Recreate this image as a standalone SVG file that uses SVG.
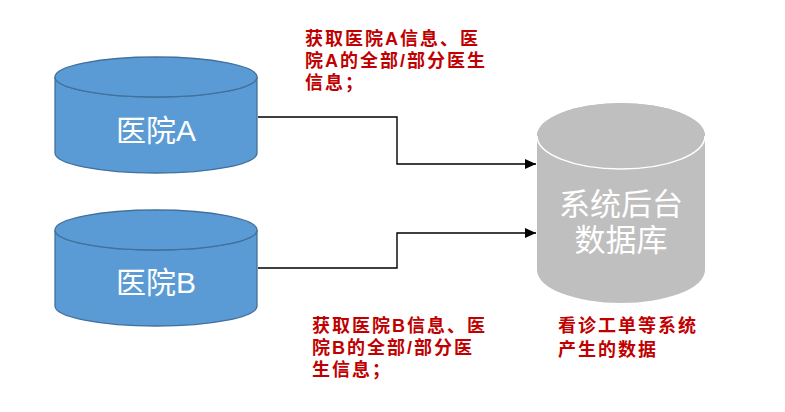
<svg xmlns="http://www.w3.org/2000/svg" width="785" height="412" viewBox="0 0 785 412">
  <style>
    .blue { fill: #5b9bd5; stroke: #41719c; stroke-width: 1.3; }
    .gray { fill: #bfbfbf; }
    .node-text { fill: #ffffff; font-family: "Liberation Sans", "Noto Sans CJK SC", sans-serif; text-anchor: middle; }
    .label { fill: #c00000; font-family: "Liberation Sans", "Noto Sans CJK SC", sans-serif; font-weight: bold; font-size: 18px; letter-spacing: 2px; }
    .conn { fill: none; stroke: #000000; stroke-width: 1.4; }
  </style>
  <defs>
    <marker id="arrow" markerUnits="userSpaceOnUse" markerWidth="11" markerHeight="10" refX="11" refY="5" orient="auto">
      <path d="M0,0 L11,5 L0,10 Z" fill="#000000"/>
    </marker>
  </defs>
  <rect width="785" height="412" fill="#ffffff"/>

  <g id="hospital-a">
    <path class="blue" d="M55,77 V153 A101,20 0 0 0 257,153 V77 A101,20 0 0 1 55,77 Z"/>
    <ellipse class="blue" cx="156" cy="77" rx="101" ry="20"/>
    <text class="node-text" x="156" y="141" font-size="30">医院A</text>
  </g>

  <g id="hospital-b">
    <path class="blue" d="M55,230 V306 A101,20 0 0 0 257,306 V230 A101,20 0 0 1 55,230 Z"/>
    <ellipse class="blue" cx="156" cy="230" rx="101" ry="20"/>
    <text class="node-text" x="156" y="293" font-size="30">医院B</text>
  </g>

  <g id="backend-db">
    <path class="gray" d="M537,136 V270 A84,33 0 0 0 705,270 V136 A84,33 0 0 0 537,136 Z"/>
    <ellipse class="gray" cx="621" cy="136" rx="84" ry="33"/>
    <path d="M537,136 A84,33 0 0 0 705,136" fill="none" stroke="#ffffff" stroke-width="1.5"/>
    <text class="node-text" x="621" y="215" font-size="31">系统后台</text>
    <text class="node-text" x="621" y="251" font-size="31">数据库</text>
  </g>

  <g id="connectors">
    <polyline class="conn" points="258,117 397,117 397,164 536,164" marker-end="url(#arrow)"/>
    <polyline class="conn" points="258,268 397,268 397,233 536,233" marker-end="url(#arrow)"/>
  </g>

  <g id="label-a">
    <text class="label" x="305" y="45">获取医院A信息、医</text>
    <text class="label" x="305" y="67">院A的全部/部分医生</text>
    <text class="label" x="305" y="89">信息；</text>
  </g>

  <g id="label-b">
    <text class="label" x="312" y="332">获取医院B信息、医</text>
    <text class="label" x="312" y="354">院B的全部/部分医</text>
    <text class="label" x="312" y="376">生信息；</text>
  </g>

  <g id="label-db">
    <text class="label" x="558" y="332">看诊工单等系统</text>
    <text class="label" x="558" y="356">产生的数据</text>
  </g>
</svg>
